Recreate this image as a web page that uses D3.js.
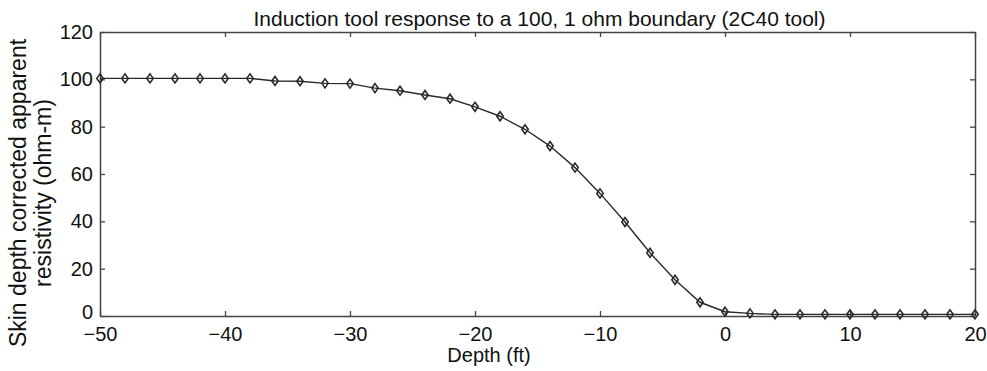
<!DOCTYPE html>
<html>
<head>
<meta charset="utf-8">
<script src="https://cdn.jsdelivr.net/npm/d3@7"></script>
<style>
  body { margin: 0; background: #fff; }
  text { font-family: "Liberation Sans", Arial, sans-serif; fill: #111; }
</style>
</head>
<body>
<svg id="chart" width="987" height="371"></svg>
<script>
const depth = [-50, -48, -46, -44, -42, -40, -38, -36, -34, -32, -30, -28, -26, -24, -22, -20, -18, -16,
    -14, -12, -10, -8, -6, -4, -2, 0, 2, 4, 6, 8, 10, 12, 14, 16, 18, 20];
const resistivity = [100.4, 100.4, 100.4, 100.4, 100.4, 100.4, 100.4, 99.3, 99.2, 98.3, 98.2, 96.3, 95.2, 93.4,
    91.8, 88.4, 84.4, 78.9, 71.8, 62.7, 51.8, 39.7, 26.7, 15.3, 5.8, 1.8, 1.1, 0.7, 0.7, 0.7, 0.7, 0.7, 0.7,
    0.7, 0.7, 0.7];
const xTicks = [-50, -40, -30, -20, -10, 0, 10, 20];
const yTicks = [0, 20, 40, 60, 80, 100, 120];

const margin = { top: 32, right: 12, bottom: 55, left: 100 };
const width = 987 - margin.left - margin.right;
const height = 371 - margin.top - margin.bottom;

const svg = d3.select("#chart");
const g = svg.append("g").attr("transform", `translate(${margin.left},${margin.top})`);

const x = d3.scaleLinear().domain([-50, 20]).range([0, width]);
const y = d3.scaleLinear().domain([0, 120]).range([height, 0]);

const axisColor = "#444";
const fmt = d3.format("");

// box axes with inward ticks, like MATLAB
const xAxis = g.append("g")
    .attr("transform", `translate(0,${height})`)
    .call(d3.axisBottom(x).tickValues(xTicks).tickSizeInner(-5).tickSizeOuter(0).tickPadding(11).tickFormat(fmt));
const xTop = g.append("g")
    .call(d3.axisTop(x).tickValues(xTicks).tickSizeInner(-5).tickSizeOuter(0).tickFormat(""));
const yAxis = g.append("g")
    .call(d3.axisLeft(y).tickValues(yTicks).tickSizeInner(-5).tickSizeOuter(0).tickPadding(7).tickFormat(fmt));
const yRight = g.append("g")
    .attr("transform", `translate(${width},0)`)
    .call(d3.axisRight(y).tickValues(yTicks).tickSizeInner(-5).tickSizeOuter(0).tickFormat(""));

[xAxis, xTop, yAxis, yRight].forEach((a) => {
    a.select(".domain").attr("stroke", axisColor).attr("stroke-width", 1.5);
    a.selectAll(".tick line").attr("stroke", axisColor).attr("stroke-width", 1.3);
    a.selectAll("text").attr("font-size", 20).attr("fill", "#111")
        .attr("font-family", "'Liberation Sans', Arial, sans-serif");
});
xAxis.selectAll("text").attr("dy", "0.71em");
// bottom y label sits a little higher, clear of the -50
yAxis.selectAll(".tick text").filter((d) => d === 0).attr("dy", "0.1em");

const line = d3.line()
    .x((d, i) => x(depth[i]))
    .y((d) => y(d));

g.append("path")
    .datum(resistivity)
    .attr("fill", "none")
    .attr("stroke", "#2a2a2a")
    .attr("stroke-width", 1.4)
    .attr("d", line);

g.selectAll(".marker")
    .data(resistivity)
    .enter()
    .append("path")
    .attr("class", "marker")
    .attr("transform", (d, i) => `translate(${x(depth[i])},${y(d)})`)
    .attr("d", "M0,-4.5L3.2,0L0,4.5L-3.2,0Z")
    .attr("fill", "none")
    .attr("stroke", "#2a2a2a")
    .attr("stroke-width", 1.6);

svg.append("text")
    .attr("x", 539.5)
    .attr("y", 26)
    .attr("text-anchor", "middle")
    .attr("font-size", 21)
    .text("Induction tool response to a 100, 1 ohm boundary (2C40 tool)");

svg.append("text")
    .attr("x", 489)
    .attr("y", 362)
    .attr("text-anchor", "middle")
    .attr("font-size", 20)
    .text("Depth (ft)");

const yl = svg.append("text")
    .attr("transform", "translate(0,193) rotate(-90)")
    .attr("text-anchor", "middle")
    .attr("font-size", 23);
yl.append("tspan").attr("x", 0).attr("y", 26).text("Skin depth corrected apparent");
yl.append("tspan").attr("x", 0).attr("y", 51).text("resistivity (ohm-m)");
</script>
</body>
</html>
